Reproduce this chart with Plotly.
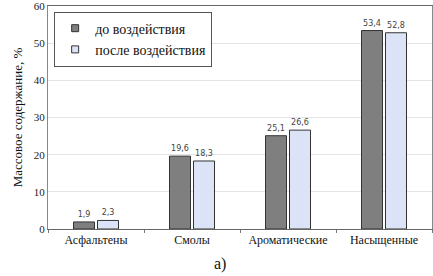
import plotly.graph_objects as go

categories = ["Асфальтены", "Смолы", "Ароматические", "Насыщенные"]
before = [1.9, 19.6, 25.1, 53.4]
after = [2.3, 18.3, 26.6, 52.8]
series_names = ["до воздействия", "после воздействия"]
colors = ["#7f7f7f", "#dce3f6"]
y_ticks = [0, 10, 20, 30, 40, 50, 60]

def fmt(v):
    return f"{v:.1f}".replace(".", ",")

serif = "Liberation Serif"

fig = go.Figure()
for name, vals, col in zip(series_names, [before, after], colors):
    fig.add_trace(go.Bar(
        x=categories, y=vals, name=name, showlegend=False,
        marker=dict(color=col, line=dict(color="#333333", width=1)),
        text=[fmt(v) for v in vals], textposition="outside",
        textfont=dict(family="DejaVu Sans", size=8, color="#444444"),
        cliponaxis=False,
    ))
# legend entries with small square swatches
for name, col in zip(series_names, colors):
    fig.add_trace(go.Scatter(
        x=[None], y=[None], mode="markers", name=name,
        marker=dict(symbol="square", size=7, color=col, line=dict(color="#333333", width=1)),
    ))

fig.update_layout(
    width=433, height=276,
    margin=dict(l=48, r=1, t=6, b=47, autoexpand=False),
    paper_bgcolor="white", plot_bgcolor="white",
    barmode="group", bargap=0.5, bargroupgap=0.125,
    font=dict(family=serif, size=12, color="#111111"),
    showlegend=True,
    legend=dict(
        x=0.016, y=0.975, xanchor="left", yanchor="top",
        bgcolor="white", bordercolor="#555555", borderwidth=1,
        font=dict(family=serif, size=14, color="#111111"),
        itemwidth=30, tracegroupgap=0,
    ),
    xaxis=dict(
        type="category", tickson="boundaries", ticks="outside", ticklen=3,
        tickcolor="#777777", showgrid=False, automargin=False,
        showline=True, linecolor="#666666", mirror=True,
        tickfont=dict(family=serif, size=12, color="#111111"),
    ),
    yaxis=dict(
        range=[0, 60], tickvals=y_ticks, showgrid=True, gridcolor="#e4e4e4",
        showline=True, linecolor="#888888", mirror=True, automargin=False,
        ticks="", ticklabeloverflow="allow",
        tickfont=dict(family=serif, size=11, color="#222222"),
        title=dict(text="Массовое содержание, %", font=dict(family=serif, size=13), standoff=8),
        zeroline=False,
    ),
    annotations=[dict(
        text="а)", xref="paper", yref="paper", x=0.448, y=-0.155,
        xanchor="center", yanchor="middle", showarrow=False,
        font=dict(family=serif, size=16, color="#111111"),
    )],
)

fig.write_html("out.html", config={"displayModeBar": False},
               post_script="document.body.style.margin='0';")
